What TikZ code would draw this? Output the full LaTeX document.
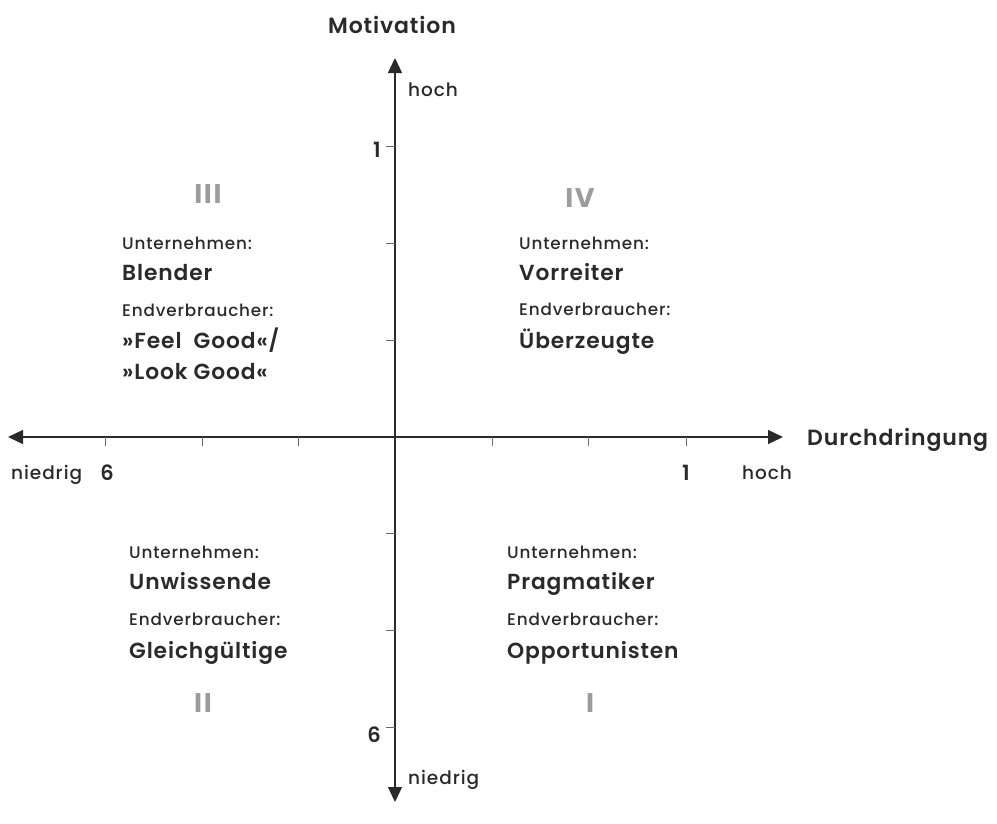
\documentclass[tikz,border=0pt]{standalone}
\usepackage{fontspec}
\setmainfont{Poppins}[LetterSpace=6]
\newfontfamily\medfont{Poppins Medium}[LetterSpace=5]
\newfontfamily\semifont{Poppins SemiBold}[LetterSpace=4]
\usetikzlibrary{arrows.meta}
\definecolor{ink}{HTML}{2A2A2A}
\definecolor{roman}{HTML}{9C9C9C}
\tikzset{
  axisline/.style={draw=ink, line width=1.3pt,
    {Triangle[length=15pt,width=14pt]}-{Triangle[length=15pt,width=14pt]}},
  tickmark/.style={draw=ink!70, line width=0.8pt},
  smalltxt/.style={font=\medfont\fontsize{16.8}{18}\selectfont, text=ink, inner sep=0pt,
    anchor=west, text height=12.4pt, text depth=0pt},
  bigtxt/.style={font=\semifont\fontsize{21.8}{24}\selectfont, text=ink, inner sep=0pt,
    anchor=west, text height=16pt, text depth=0pt},
  axtxt/.style={font=\medfont\fontsize{18.5}{20}\selectfont, text=ink, inner sep=0pt,
    text height=13.7pt, text depth=0pt},
  numtxt/.style={font=\semifont\fontsize{21}{22}\selectfont, text=ink, inner sep=0pt},
  titletxt/.style={font=\semifont\fontsize{22}{24}\selectfont, text=ink, inner sep=0pt,
    text height=16.2pt, text depth=0pt},
  romantxt/.style={font=\bfseries\fontsize{27}{28}\selectfont, text=roman, inner sep=0pt}
}
\begin{document}
\begin{tikzpicture}[x=1pt,y=-1pt]
\useasboundingbox (0,0) rectangle (997,823);

% axes
\coordinate (W) at (8,437);
\coordinate (E) at (783,437);
\coordinate (N) at (395,58);
\coordinate (S) at (395,802);
\draw[axisline] (W) -- (E);
\draw[axisline] (S) -- (N);

% ticks
\foreach \x in {105,202,298,492,588,686}
  \draw[tickmark] (\x,437) -- (\x,446);
\foreach \y in {146,243,340,533,630,727}
  \draw[tickmark] (395,\y) -- (386,\y);

% axis labels
\node[titletxt] (mot) at (392,25) {Motivation};
\node[axtxt, anchor=west] (vhoch) at (408,90) {hoch};
\node[axtxt, anchor=west] (vnied) at (408,778) {niedrig};
\node[numtxt, anchor=east] (v1) at (381,150) {1};
\node[numtxt, anchor=east] (v6) at (381,735) {6};
\node[titletxt, anchor=west] (durch) at (807,437) {Durchdringung};
\node[axtxt, anchor=west] (hnied) at (11,473) {niedrig};
\node[numtxt] (h6) at (107,473) {6};
\node[numtxt] (h1) at (686,473) {1};
\node[axtxt, anchor=west] (hhoch) at (742,473) {hoch};

% quadrant numerals
\node[romantxt] (q3) at (208,194) {III};
\node[romantxt] (q4) at (580,198) {IV};
\node[romantxt] (q2) at (203,703) {II};
\node[romantxt] (q1) at (590,703) {I};

% quadrant III
\node[smalltxt] (u3) at (122,243) {Unternehmen:};
\node[bigtxt] (b3) at (122,272) {Blender};
\node[smalltxt] (e3) at (122,310) {Endverbraucher:};
\node[bigtxt] (f3) at (122,340) {»Feel\ \ Good«/};
\node[bigtxt] (l3) at (122,371) {»Look Good«};

% quadrant IV
\node[smalltxt] (u4) at (519,243) {Unternehmen:};
\node[bigtxt] (b4) at (519,272) {Vorreiter};
\node[smalltxt] (e4) at (519,309) {Endverbraucher:};
\node[bigtxt] (f4) at (519,340) {Überzeugte};

% quadrant II
\node[smalltxt] (u2) at (129,552) {Unternehmen:};
\node[bigtxt] (b2) at (129,581) {Unwissende};
\node[smalltxt] (e2) at (129,619) {Endverbraucher:};
\node[bigtxt] (f2) at (129,650) {Gleichgültige};

% quadrant I
\node[smalltxt] (u1) at (507,552) {Unternehmen:};
\node[bigtxt] (b1) at (507,581) {Pragmatiker};
\node[smalltxt] (e1) at (507,619) {Endverbraucher:};
\node[bigtxt] (f1) at (507,650) {Opportunisten};
\end{tikzpicture}
\end{document}
